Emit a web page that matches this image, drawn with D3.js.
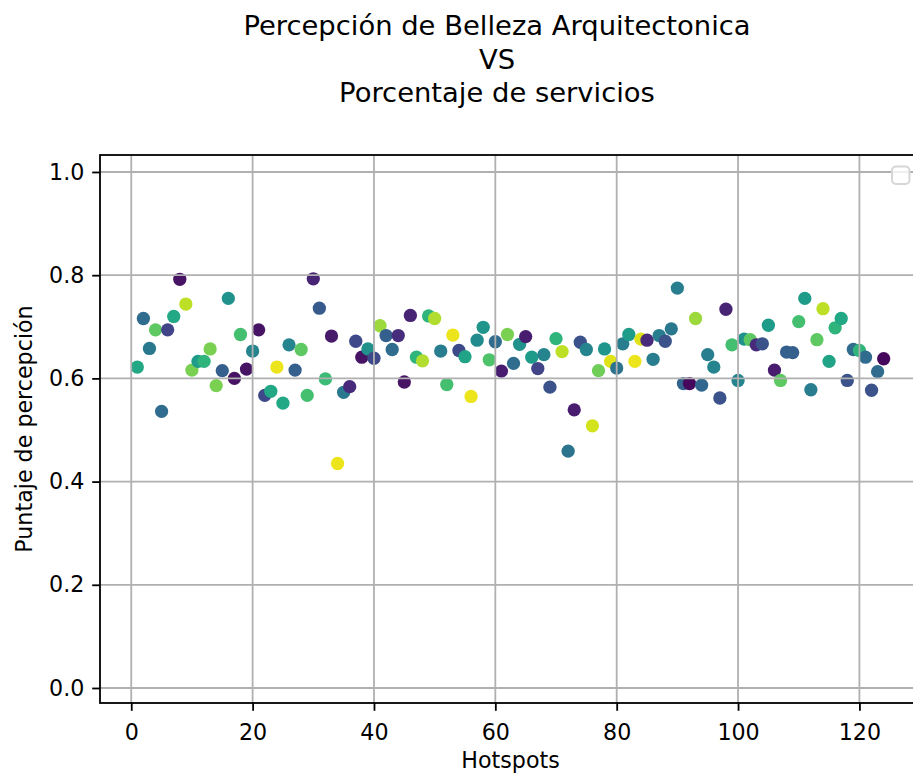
<!DOCTYPE html>
<html>
<head>
<meta charset="utf-8">
<script src="https://cdn.jsdelivr.net/npm/d3@7"></script>
<style>
  html, body { margin: 0; padding: 0; background: #fff; }
  svg { display: block; font-family: "DejaVu Sans", sans-serif; }
</style>
</head>
<body>
<svg id="chart" width="913" height="777"></svg>
<script>
// ---- data ----
const titleLines = ["Percepción de Belleza Arquitectonica", "VS", "Porcentaje de servicios"];
const xLabel = "Hotspots";
const yLabel = "Puntaje de percepción";
const xTicks = [0, 20, 40, 60, 80, 100, 120];
const yTicks = [0.0, 0.2, 0.4, 0.6, 0.8, 1.0];

const hotspots = [1,2,3,4,5,6,7,8,9,10,11,12,13,14,15,16,17,18,19,20,
  21,22,23,24,25,26,27,28,29,30,31,32,33,34,35,36,37,38,39,40,
  41,42,43,44,45,46,47,48,49,50,51,52,53,54,55,56,57,58,59,60,
  61,62,63,64,65,66,67,68,69,70,71,72,73,74,75,76,77,78,79,80,
  81,82,83,84,85,86,87,88,89,90,91,92,93,94,95,96,97,98,99,100,
  101,102,103,104,105,106,107,108,109,110,111,112,113,114,115,116,117,118,119,120,
  121,122,123,124];

const percepcion = [0.622,0.716,0.658,0.694,0.536,0.694,0.720,0.792,0.744,0.616,
  0.633,0.633,0.657,0.586,0.615,0.755,0.600,0.685,0.618,0.653,
  0.694,0.567,0.575,0.622,0.552,0.665,0.616,0.656,0.567,0.793,
  0.736,0.599,0.682,0.435,0.573,0.584,0.672,0.641,0.657,0.639,
  0.702,0.683,0.656,0.683,0.593,0.722,0.641,0.634,0.721,0.716,
  0.653,0.588,0.684,0.654,0.642,0.565,0.674,0.699,0.636,0.671,
  0.614,0.685,0.629,0.666,0.681,0.641,0.619,0.646,0.583,0.677,
  0.652,0.459,0.539,0.670,0.656,0.508,0.615,0.657,0.633,0.620,
  0.667,0.685,0.633,0.676,0.674,0.637,0.683,0.672,0.696,0.775,
  0.590,0.590,0.716,0.587,0.646,0.622,0.562,0.734,0.665,0.596,
  0.676,0.675,0.665,0.667,0.703,0.616,0.596,0.651,0.650,0.710,
  0.755,0.578,0.675,0.735,0.633,0.698,0.716,0.596,0.656,0.654,
  0.641,0.577,0.613,0.638];

// colour value (porcentaje de servicios, normalised) per hotspot
const servicios = [0.60,0.35,0.40,0.75,0.35,0.20,0.60,0.05,0.90,0.80,
  0.55,0.65,0.80,0.80,0.30,0.50,0.05,0.70,0.05,0.45,
  0.05,0.22,0.60,0.97,0.60,0.45,0.30,0.75,0.70,0.10,
  0.28,0.68,0.07,0.97,0.40,0.12,0.22,0.05,0.50,0.22,
  0.85,0.30,0.35,0.13,0.05,0.10,0.65,0.88,0.65,0.88,
  0.42,0.70,0.97,0.22,0.58,0.97,0.48,0.52,0.72,0.35,
  0.08,0.80,0.35,0.50,0.08,0.55,0.20,0.45,0.25,0.65,
  0.90,0.38,0.08,0.25,0.45,0.93,0.78,0.52,0.95,0.38,
  0.42,0.55,0.97,0.95,0.12,0.42,0.42,0.25,0.40,0.42,
  0.32,0.02,0.85,0.33,0.42,0.45,0.25,0.10,0.70,0.45,
  0.50,0.75,0.12,0.25,0.55,0.08,0.75,0.30,0.30,0.70,
  0.55,0.42,0.75,0.90,0.58,0.65,0.60,0.25,0.35,0.65,
  0.35,0.25,0.35,0.02];

// ---- layout ----
const W = 913, H = 777;
const axL = 100, axR = 921, axT = 155, axB = 703;
const fs = 22.2, titleFs = 27.4, tickLen = 7.8, pad = 7.8;

const svg = d3.select("#chart");
svg.append("rect").attr("width", W).attr("height", H).attr("fill", "#fff");

const x = d3.scaleLinear().domain([-5.15, 130.15]).range([axL, axR]);
const y = d3.scaleLinear().domain([-0.0291, 1.0329]).range([axB, axT]);
const color = d3.scaleSequential(d3.interpolateViridis).domain([0, 1]);

const data = hotspots.map((h, i) => ({ h, v: percepcion[i], c: servicios[i] }));

// points
svg.append("g").selectAll("circle").data(data).join("circle")
  .attr("cx", d => x(d.h)).attr("cy", d => y(d.v)).attr("r", 6.65)
  .attr("fill", d => color(d.c));

// grid (matplotlib draws grid above collections by default)
const grid = svg.append("g").attr("stroke", "#b0b0b0").attr("stroke-width", 1.8);
grid.selectAll("line.gx").data(xTicks).join("line")
  .attr("x1", d => x(d)).attr("x2", d => x(d)).attr("y1", axT).attr("y2", axB);
grid.selectAll("line.gy").data(yTicks).join("line")
  .attr("y1", d => y(d)).attr("y2", d => y(d)).attr("x1", axL).attr("x2", axR);

// axes via d3
const xAxis = d3.axisBottom(x).tickValues(xTicks).tickFormat(d3.format("d"))
  .tickSize(tickLen).tickPadding(pad).tickSizeOuter(0);
const yAxis = d3.axisLeft(y).tickValues(yTicks).tickFormat(d3.format(".1f"))
  .tickSize(tickLen).tickPadding(pad).tickSizeOuter(0);

const gx = svg.append("g").attr("transform", `translate(0,${axB})`).call(xAxis);
const gy = svg.append("g").attr("transform", `translate(${axL},0)`).call(yAxis);
[gx, gy].forEach(g => {
  g.select(".domain").remove();
  g.selectAll(".tick line").attr("stroke", "#000").attr("stroke-width", 1.8);
  g.selectAll(".tick text").attr("fill", "#000").attr("font-size", fs)
    .attr("font-family", "DejaVu Sans");
});
gx.selectAll(".tick text").attr("dy", "0.95em");

// spines
svg.append("rect").attr("x", axL).attr("y", axT).attr("width", axR - axL).attr("height", axB - axT)
  .attr("fill", "none").attr("stroke", "#000").attr("stroke-width", 1.8);

// empty legend box
svg.append("rect").attr("x", 892).attr("y", 166.5).attr("width", 17.5).attr("height", 17.5)
  .attr("rx", 4).attr("fill", "#fff").attr("fill-opacity", 0.8)
  .attr("stroke", "#d6d6d6").attr("stroke-width", 2);

// title
svg.append("g").selectAll("text").data(titleLines).join("text")
  .attr("x", 497).attr("y", (d, i) => 35 + i * 33.5)
  .attr("text-anchor", "middle").attr("font-size", titleFs).attr("fill", "#000")
  .text(d => d);

// axis labels
svg.append("text").attr("x", (axL + axR) / 2).attr("y", 768)
  .attr("text-anchor", "middle").attr("font-size", fs).attr("fill", "#000").text(xLabel);
svg.append("text").attr("transform", `translate(32,${(axT + axB) / 2}) rotate(-90)`)
  .attr("text-anchor", "middle").attr("font-size", fs).attr("fill", "#000").text(yLabel);
</script>
</body>
</html>
